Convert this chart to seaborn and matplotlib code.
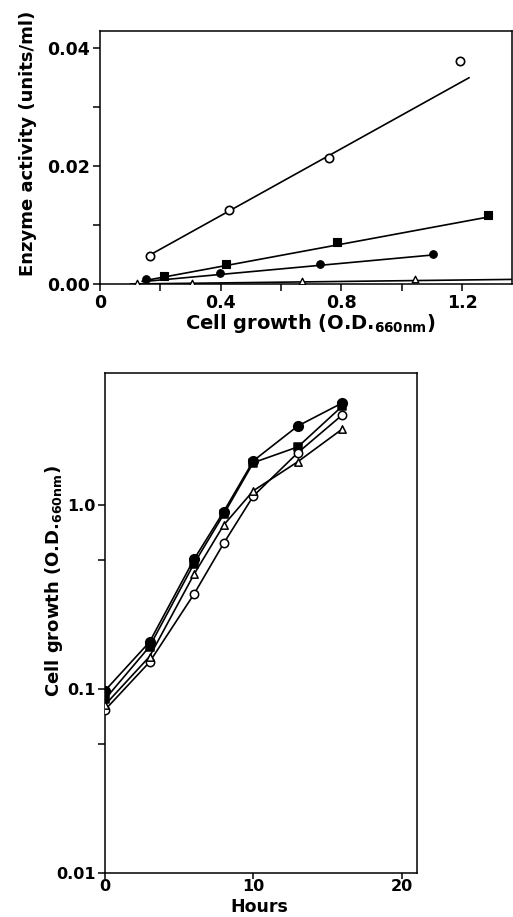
import numpy as np
import pandas as pd
import matplotlib
matplotlib.use("Agg")
import matplotlib.pyplot as plt
import seaborn as sns
from matplotlib.ticker import FixedLocator, FixedFormatter, NullFormatter

sns.set_style("ticks")
plt.rcParams['font.family'] = ['DejaVu Sans']
plt.rcParams['font.weight'] = 'bold'
plt.rcParams['mathtext.fontset'] = 'dejavusans'
plt.rcParams['axes.labelcolor'] = 'black'
plt.rcParams['text.color'] = 'black'

# ---------------- Top panel data: enzyme activity vs cell growth ----------------
od_open = [0.165, 0.427, 0.758, 1.193]
act_open = [0.0048, 0.0125, 0.0213, 0.0377]
fit_open_x = [0.165, 1.223]
fit_open_y = [0.0049, 0.0349]

od_square = [0.213, 0.4165, 0.785, 1.286]
act_square = [0.0014, 0.0034, 0.0071, 0.0116]
fit_square_x = [0.14, 1.283]
fit_square_y = [0.0005, 0.0113]

od_fcircle = [0.151, 0.397, 0.7295, 1.104]
act_fcircle = [0.0008, 0.0018, 0.0034, 0.0051]
fit_fcircle_x = [0.14, 1.10]
fit_fcircle_y = [0.0004, 0.0049]

od_tri = [0.121, 0.306, 0.668, 1.045]
act_tri = [0.0001, 0.0002, 0.0005, 0.0009]
fit_tri_x = [0.10, 1.40]
fit_tri_y = [0.0, 0.0008]

top_xticks = [0, 0.4, 0.8, 1.2]
top_xticklabels = ["0", "0.4", "0.8", "1.2"]
top_yticks = [0.0, 0.02, 0.04]
top_yticklabels = ["0.00", "0.02", "0.04"]

# ---------------- Bottom panel data: growth curves ----------------
hours = [0, 3, 6, 8, 10, 13, 16]
growth_fcircle = [0.098, 0.180, 0.507, 0.92, 1.74, 2.69, 3.59]
growth_square = [0.088, 0.170, 0.480, 0.89, 1.70, 2.07, 3.45]
growth_open = [0.077, 0.140, 0.328, 0.619, 1.12, 1.925, 3.09]
growth_tri = [0.082, 0.150, 0.420, 0.778, 1.196, 1.72, 2.59]

bot_xticks = [0, 10, 20]
bot_xticklabels = ["0", "10", "20"]
bot_yticks = [0.01, 0.1, 1.0]
bot_yticklabels = ["0.01", "0.1", "1.0"]

W, H = 513, 917
fig = plt.figure(figsize=(W / 100, H / 100), dpi=100)
ax1 = fig.add_axes([100 / W, 1 - 284 / H, 412 / W, 253 / H])
ax2 = fig.add_axes([105 / W, 1 - 873 / H, 311.5 / W, 500 / H])

lw = 1.2
# Top panel lines
for fx, fy in [(fit_open_x, fit_open_y), (fit_square_x, fit_square_y),
               (fit_fcircle_x, fit_fcircle_y), (fit_tri_x, fit_tri_y)]:
    sns.lineplot(x=fx, y=fy, ax=ax1, color='black', linewidth=lw,
                 estimator=None, sort=False, legend=False)

sns.scatterplot(x=od_open, y=act_open, ax=ax1, marker='o', s=36, color='white',
                edgecolor='black', linewidth=1.2, zorder=5, legend=False)
sns.scatterplot(x=od_square, y=act_square, ax=ax1, marker='s', s=30, color='black',
                edgecolor='black', linewidth=0.8, zorder=5, legend=False)
sns.scatterplot(x=od_fcircle, y=act_fcircle, ax=ax1, marker='o', s=30, color='black',
                edgecolor='black', linewidth=0.8, zorder=5, legend=False)
sns.scatterplot(x=od_tri, y=act_tri, ax=ax1, marker='^', s=22, color='white',
                edgecolor='black', linewidth=1.0, zorder=5, legend=False)

ax1.set_xlim(0, 1.365)
ax1.set_ylim(0, 0.0428)
ax1.xaxis.set_major_locator(FixedLocator(top_xticks))
ax1.xaxis.set_major_formatter(FixedFormatter(top_xticklabels))
ax1.xaxis.set_minor_locator(FixedLocator([0.2, 0.6, 1.0]))
ax1.yaxis.set_major_locator(FixedLocator(top_yticks))
ax1.yaxis.set_major_formatter(FixedFormatter(top_yticklabels))
ax1.yaxis.set_minor_locator(FixedLocator([0.01, 0.03]))
ax1.set_xlabel(r"Cell growth (O.D.$_{\mathbf{660nm}}$)", fontsize=14, fontweight='bold')
ax1.set_ylabel("Enzyme activity (units/ml)", fontsize=13, fontweight='bold')
ax1.xaxis.set_label_coords(0.51, -0.112)
ax1.yaxis.set_label_coords(-0.153, 0.555)

# Bottom panel
ax2.set_yscale('log')
series = [
    (growth_fcircle, 'o', 'black', 48),
    (growth_square, 's', 'black', 40),
    (growth_open, 'o', 'white', 36),
    (growth_tri, '^', 'white', 28),
]
for vals, mk, fc, sz in series:
    sns.lineplot(x=hours, y=vals, ax=ax2, color='black', linewidth=lw,
                 estimator=None, legend=False)
for vals, mk, fc, sz in series:
    sns.scatterplot(x=hours, y=vals, ax=ax2, marker=mk, s=sz, color=fc,
                    edgecolor='black', linewidth=1.1, zorder=5, legend=False)

ax2.set_xlim(0, 21)
ax2.set_ylim(0.01, 5.22)
ax2.xaxis.set_major_locator(FixedLocator(bot_xticks))
ax2.xaxis.set_major_formatter(FixedFormatter(bot_xticklabels))
ax2.xaxis.set_minor_locator(FixedLocator([]))
ax2.yaxis.set_major_locator(FixedLocator(bot_yticks))
ax2.yaxis.set_major_formatter(FixedFormatter(bot_yticklabels))
ax2.yaxis.set_minor_locator(FixedLocator([0.05, 0.5]))
ax2.yaxis.set_minor_formatter(NullFormatter())
ax2.set_xlabel("Hours", fontsize=12.5, fontweight='bold')
ax2.set_ylabel(r"Cell growth (O.D.$_{\mathbf{660nm}}$)", fontsize=13, fontweight='bold')
ax2.xaxis.set_label_coords(0.495, -0.051)
ax2.yaxis.set_label_coords(-0.13, 0.583)

for ax in (ax1, ax2):
    for sp in ax.spines.values():
        sp.set_visible(True)
        sp.set_linewidth(1.1)
        sp.set_color('black')
    ax.tick_params(which='both', direction='out', length=5, width=1.1,
                   labelsize=12.5, pad=2, colors='black')
    for lab in ax.get_xticklabels() + ax.get_yticklabels():
        lab.set_fontweight('bold')
ax2.tick_params(axis='y', which='both', labelsize=11.5, pad=1.5)
ax2.tick_params(axis='x', which='both', labelsize=11.5, pad=0.5, length=4)

fig.savefig("out.png", dpi=100, facecolor='white')
